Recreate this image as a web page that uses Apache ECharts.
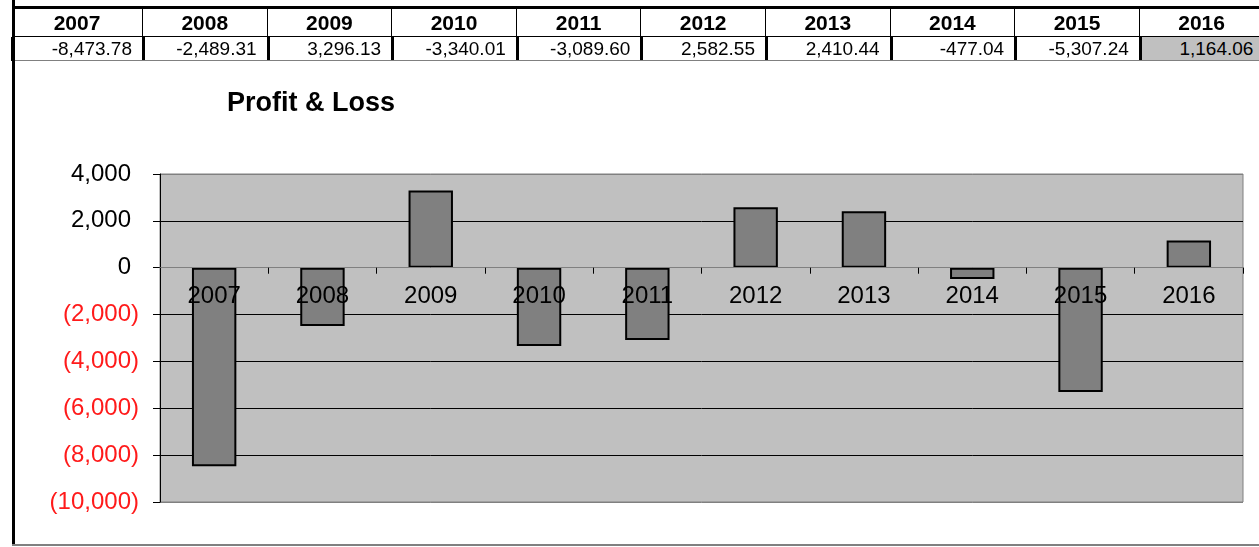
<!DOCTYPE html>
<html>
<head>
<meta charset="utf-8">
<script src="https://cdn.jsdelivr.net/npm/echarts@6/dist/echarts.min.js"></script>
<style>
  html, body { margin: 0; padding: 0; background: #fff; }
  #wrap { position: relative; width: 1259px; height: 547px; overflow: hidden; font-family: 'Liberation Sans', Arial, sans-serif; }
  #chart { position: absolute; left: 0; top: 0; width: 1259px; height: 547px; }
  #sheet { position: absolute; left: 0; top: 0; width: 1259px; height: 547px; pointer-events: none; }
  #sheet div { position: absolute; box-sizing: border-box; white-space: nowrap; }
  .hd { font-weight: bold; font-size: 21px; text-align: center; color: #000; }
  .val { font-size: 19px; text-align: right; color: #000; }
</style>
</head>
<body>
<div id="wrap">
  <div id="chart"></div>
  <div id="sheet"></div>
</div>
<script>
const years = ['2007', '2008', '2009', '2010', '2011', '2012', '2013', '2014', '2015', '2016']
const profitLoss = [-8473.78, -2489.31, 3296.13, -3340.01, -3089.60, 2582.55, 2410.44, -477.04, -5307.24, 1164.06]

const yMin = -10000
const yMax = 4000
const yStep = 2000

const fmtThousands = (v, digits) => {
  const neg = v < 0
  const parts = Math.abs(v).toFixed(digits).split('.')
  parts[0] = parts[0].replace(/\B(?=(\d{3})+(?!\d))/g, ',')
  return (neg ? '-' : '') + parts.join('.')
}

// spreadsheet strip above the chart
const sheet = document.getElementById('sheet')
const addBox = (cls, css, text) => {
  const d = document.createElement('div')
  if (cls) d.className = cls
  Object.assign(d.style, css)
  if (text !== undefined) d.textContent = text
  sheet.appendChild(d)
  return d
}

const edges = [12]
for (let k = 0; k < years.length; k++) edges.push(143 + k * 124.6)

years.forEach((yr, i) => {
  const x0 = edges[i]
  const w = edges[i + 1] - edges[i]
  addBox('hd', { left: x0 + 'px', top: '9px', width: w + 'px', height: '27px', lineHeight: '27px', borderRight: '1px solid #000' }, yr)
  addBox('val', {
    left: x0 + 'px', top: '37px', width: w + 'px', height: '23px', lineHeight: '23px',
    paddingRight: '11px', background: i === years.length - 1 ? '#c0c0c0' : 'transparent'
  }, fmtThousands(profitLoss[i], 2))
})
edges.forEach(x => {
  addBox(null, { left: (x - 1) + 'px', top: '37px', width: '3px', height: '24px', background: '#000' })
})
addBox(null, { left: '12px', top: '6px', width: '1259px', height: '3px', background: '#000' })
addBox(null, { left: '12px', top: '36px', width: '1259px', height: '1px', background: '#000' })
addBox(null, { left: '12px', top: '60px', width: '1259px', height: '1px', background: '#808080' })
addBox(null, { left: '12px', top: '0px', width: '3px', height: '546px', background: '#000' })
addBox(null, { left: '12px', top: '544px', width: '1259px', height: '2px', background: '#808080' })

// chart
const chart = echarts.init(document.getElementById('chart'))

const gridTop = 174
const gridBottom = 45
const plotH = 547 - gridTop - gridBottom
// category axis sits on the zero line, labels included
const zeroOffset = -plotH * (0 - yMin) / (yMax - yMin)

// gridlines: gray at the frame edges and zero, black elsewhere
const splitColors = []
for (let v = yMin; v <= yMax; v += yStep) {
  splitColors.push(v === yMin || v === yMax || v === 0 ? '#808080' : '#000000')
}

const option = {
  animation: false,
  backgroundColor: 'transparent',
  textStyle: { fontFamily: 'Liberation Sans, Arial, sans-serif' },
  title: {
    text: 'Profit & Loss',
    left: 227,
    top: 90,
    padding: 0,
    textStyle: { fontSize: 27, fontWeight: 'bold', color: '#000', fontFamily: 'Liberation Sans, Arial, sans-serif' }
  },
  grid: {
    left: 160, right: 16, top: gridTop, bottom: gridBottom,
    show: true,
    backgroundColor: '#c0c0c0',
    borderColor: '#808080',
    borderWidth: 1,
    containLabel: false
  },
  xAxis: {
    type: 'category',
    data: years,
    z: 10,
    offset: zeroOffset,
    axisLine: { onZero: false, lineStyle: { color: '#808080', width: 1 } },
    axisTick: { show: true, length: 6, lineStyle: { color: '#000' } },
    axisLabel: { fontSize: 24, color: '#000', margin: 17, interval: 0 },
    splitLine: { show: false }
  },
  yAxis: {
    type: 'value',
    min: yMin,
    max: yMax,
    interval: yStep,
    axisLine: { show: true, lineStyle: { color: '#000', width: 1 } },
    axisTick: { show: true, length: 7, lineStyle: { color: '#000' } },
    splitLine: { show: true, lineStyle: { color: splitColors, width: 1 } },
    axisLabel: {
      margin: 21,
      formatter: v => v < 0 ? '{n|(' + fmtThousands(-v, 0) + ')}' : '{p|' + fmtThousands(v, 0) + '}',
      rich: {
        p: { fontSize: 24, color: '#000', padding: [0, 8, 0, 0] },
        n: { fontSize: 24, color: '#ff1a1a' }
      }
    }
  },
  series: [
    {
      type: 'bar',
      data: profitLoss,
      barWidth: '41%',
      itemStyle: { color: '#808080', borderColor: '#000', borderWidth: 2 }
    }
  ]
}

chart.setOption(option)
</script>
</body>
</html>
